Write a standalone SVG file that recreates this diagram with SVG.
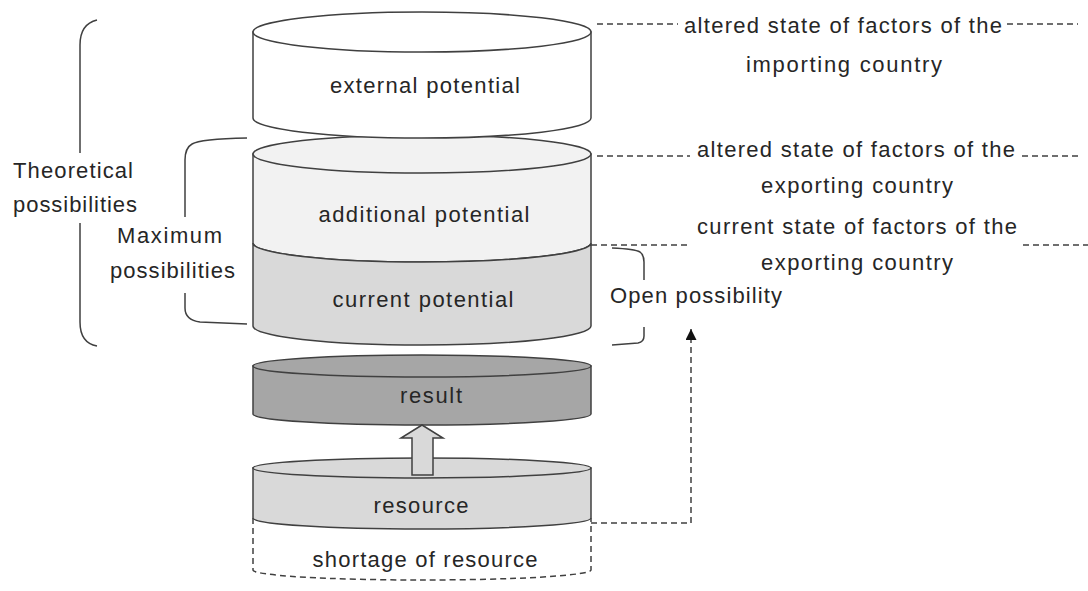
<svg xmlns="http://www.w3.org/2000/svg" width="1088" height="591" viewBox="0 0 1088 591">
<defs>
<style>
.t{font-family:"Liberation Sans",Arial,sans-serif;font-size:22px;fill:#262626}
.c{text-anchor:middle}
.s{stroke:#404040;stroke-width:1.5}
.d{fill:none;stroke:#404040;stroke-width:1.5;stroke-dasharray:6 4}
.b{fill:none;stroke:#404040;stroke-width:1.5}
</style>
<marker id="ah" viewBox="0 0 10 10" refX="10" refY="5" markerWidth="11" markerHeight="11" markerUnits="userSpaceOnUse" orient="auto">
<path d="M0,0 L10,5 L0,10 Z" fill="#111"/>
</marker>
</defs>
<rect width="1088" height="591" fill="#fff"/>

<g id="additional-current">
<path class="s" d="M253,154 L253,243 A169,19 0 0 0 591,243 L591,154 Z" fill="#f2f2f2"/>
<path class="s" d="M253,243 A169,19 0 0 0 591,243 L591,326 A169,19 0 0 1 253,326 Z" fill="#d9d9d9"/>
<ellipse class="s" cx="422" cy="154" rx="169" ry="19" fill="#f2f2f2"/>
<text class="t c" x="424" y="222" textLength="211" lengthAdjust="spacing">additional potential</text>
<text class="t c" x="423" y="307" textLength="181" lengthAdjust="spacing">current potential</text>
</g>

<g id="external">
<path class="s" d="M253,32 L253,118 A169,20 0 0 0 591,118 L591,32 Z" fill="#fff"/>
<ellipse class="s" cx="422" cy="32" rx="169" ry="20" fill="#fff"/>
<text class="t c" x="425" y="93" textLength="190" lengthAdjust="spacing">external potential</text>
</g>

<g id="result">
<path class="s" d="M253,366 L253,414 A169,11 0 0 0 591,414 L591,366 Z" fill="#a6a6a6"/>
<ellipse class="s" cx="422" cy="366" rx="169" ry="11" fill="#a6a6a6"/>
<text class="t c" x="431" y="403" textLength="62" lengthAdjust="spacing">result</text>
</g>

<g id="shortage">
<path class="d" d="M253,518 L253,570 A169,10 0 0 0 591,570 L591,518"/>
<text class="t c" x="425" y="567" textLength="225" lengthAdjust="spacing">shortage of resource</text>
</g>

<g id="resource">
<path class="s" d="M253,468 L253,518 A169,11 0 0 0 591,518 L591,468 Z" fill="#d9d9d9"/>
<ellipse class="s" cx="422" cy="468" rx="169" ry="10" fill="#d9d9d9"/>
<text class="t c" x="421" y="513" textLength="95" lengthAdjust="spacing">resource</text>
</g>

<g id="connectors">
<path class="s" d="M422,425 L443,438 L433,438 L433,475 L412,475 L412,438 L401,438 Z" fill="#d9d9d9"/>
<path class="d" d="M591,523 L691,523 L691,329" marker-end="url(#ah)"/>
<path class="d" d="M597,24 L678,24 M1007,24 L1078,24"/>
<path class="d" d="M597,156 L690,156 M1022,156 L1078,156"/>
<path class="d" d="M591,245 L687,245 M1023,245 L1088,245"/>
</g>

<g id="theoretical">
<path class="b" d="M97,20 Q80,24 80,45 L80,153 M80,223 L80,322 Q80,343 97,346"/>
<text class="t" x="13" y="178" textLength="120" lengthAdjust="spacing">Theoretical</text>
<text class="t" x="13" y="212" textLength="124" lengthAdjust="spacing">possibilities</text>
</g>

<g id="maximum">
<path class="b" d="M247,138 Q200,139 192,144 Q185,148 185,160 L185,217 M185,293 L185,308 Q185,320 200,322 L247,324"/>
<text class="t" x="117" y="243" textLength="105" lengthAdjust="spacing">Maximum</text>
<text class="t" x="110" y="278" textLength="125" lengthAdjust="spacing">possibilities</text>
</g>

<g id="open">
<path class="b" d="M612,248 Q635,249 640,252 Q644,255 644,262 L644,280 M644,327 L644,336 Q644,342 638,343 L612,345"/>
<text class="t" x="610" y="303" textLength="172" lengthAdjust="spacing">Open possibility</text>
</g>

<g id="labels">
<text class="t c" x="843" y="33" textLength="318" lengthAdjust="spacing">altered state of factors of the</text>
<text class="t c" x="844" y="72" textLength="196" lengthAdjust="spacing">importing country</text>
<text class="t c" x="856" y="157" textLength="318" lengthAdjust="spacing">altered state of factors of the</text>
<text class="t c" x="857" y="193" textLength="192" lengthAdjust="spacing">exporting country</text>
<text class="t c" x="857" y="234" textLength="320" lengthAdjust="spacing">current state of factors of the</text>
<text class="t c" x="857" y="270" textLength="192" lengthAdjust="spacing">exporting country</text>
</g>
</svg>
